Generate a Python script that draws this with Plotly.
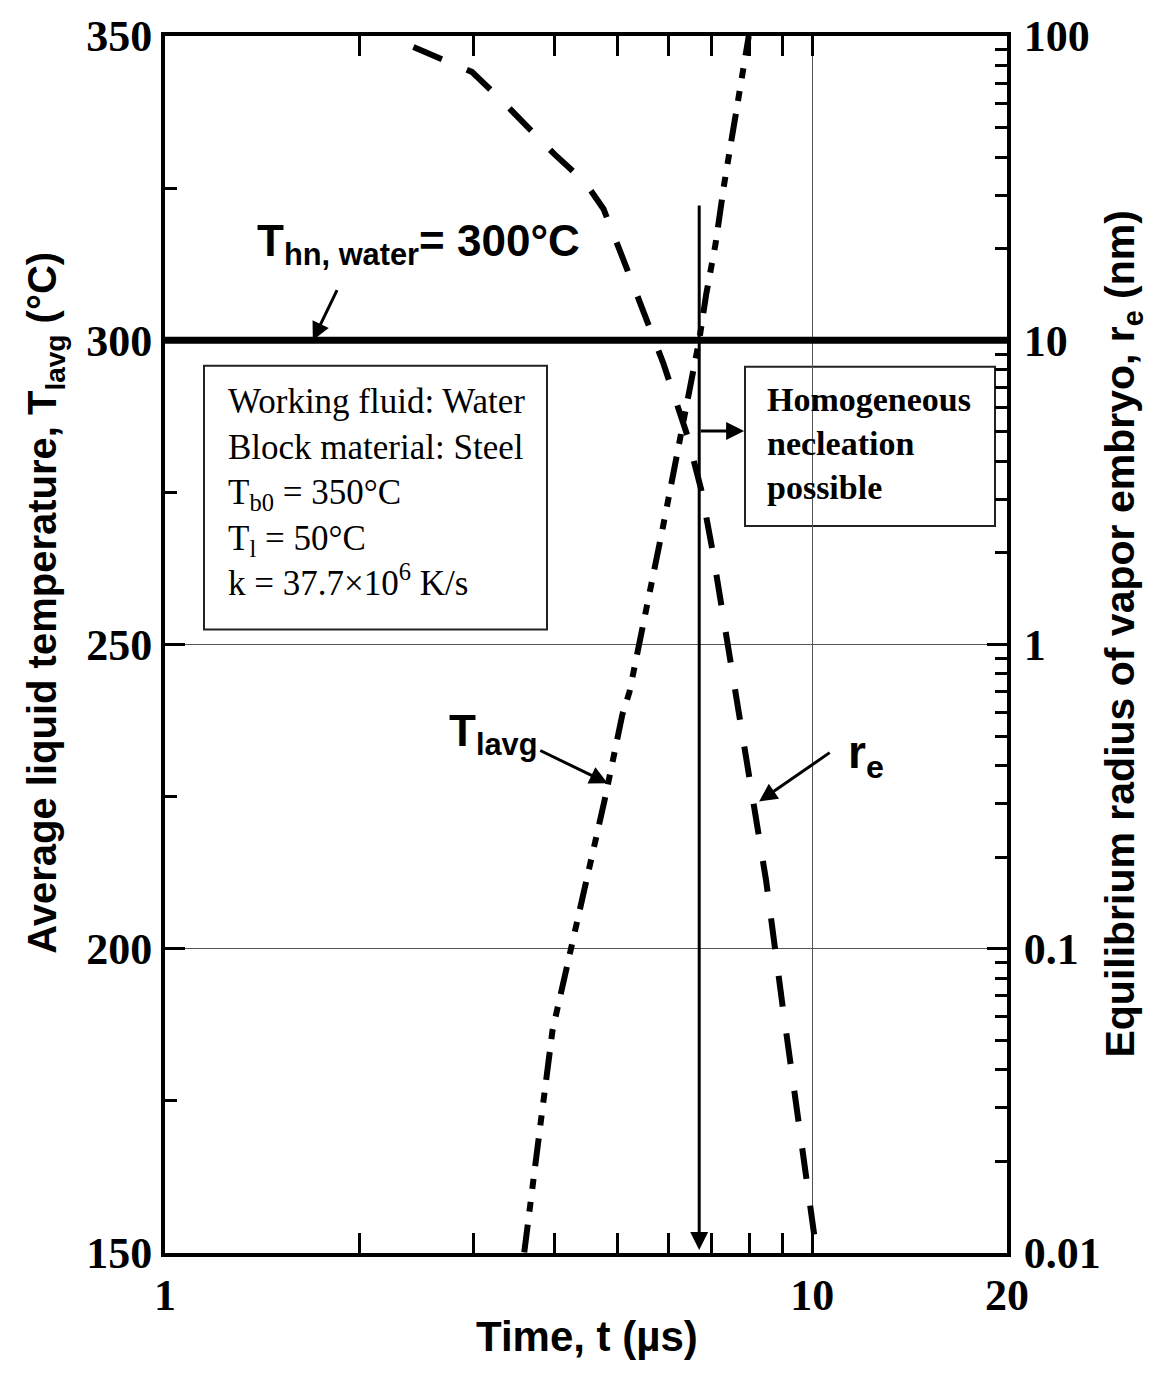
import math
import plotly.graph_objects as go

# ---- data ----
t_T = [3.59, 3.68, 3.76, 3.97, 4.53, 4.78, 5.09, 5.22, 5.87, 6.23, 6.53, 6.69, 6.86, 7.09, 7.31, 7.66, 7.98]
T_lavg = [150.1, 158.6, 167.0, 186.6, 213.6, 224.5, 238.5, 242.2, 268.9, 283.1, 294.6, 300.0, 307.6, 315.8, 325.6, 338.7, 350.0]

t_r = [2.42, 2.69, 2.98, 3.28, 3.63, 4.00, 4.46, 4.76, 5.15, 5.58, 5.89, 6.41, 6.74, 7.01, 7.24, 7.63, 8.28, 8.49, 9.02, 9.65, 10.07]
r_e = [92.0, 83.5, 76.2, 62.7, 50.4, 40.8, 33.0, 27.0, 17.6, 11.5, 8.39, 4.88, 3.22, 2.05, 1.345, 0.715, 0.243, 0.167, 0.0627, 0.0219, 0.0115]

T_hn = 300.0          # homogeneous nucleation temperature
t_hn = 6.69           # time at which T_lavg reaches T_hn (µs)

x_ticks = [1, 10, 20]
x_minor = [2, 3, 4, 5, 6, 7, 8, 9]
T_ticks = [150, 200, 250, 300, 350]
T_minor = [175, 225, 275, 325]
r_ticks = [0.01, 0.1, 1, 10, 100]
r_ticklabels = ["0.01", "0.1", "1", "10", "100"]
r_minor = [m * 10 ** k for k in range(-2, 2) for m in range(2, 10)]

SANS = "Liberation Sans, Arial, sans-serif"
SERIF = "Liberation Serif, Times New Roman, serif"

fig = go.Figure()

# T_hn horizontal line
fig.add_trace(go.Scatter(x=[1, 20], y=[T_hn, T_hn], mode="lines",
                         line=dict(color="black", width=7), showlegend=False, hoverinfo="skip"))
# T_lavg dash-dot-dot
fig.add_trace(go.Scatter(x=t_T, y=T_lavg, mode="lines",
                         line=dict(color="black", width=6, dash="28px,13px,10px,13px,10px,13px"),
                         showlegend=False))
# r_e dashed, right axis
fig.add_trace(go.Scatter(x=t_r, y=r_e, mode="lines", yaxis="y2",
                         line=dict(color="black", width=6, dash="31px,27px"),
                         showlegend=False))

axis_common = dict(showline=True, linecolor="black", linewidth=4, ticks="inside",
                   tickcolor="black", tickwidth=3, ticklen=20, zeroline=False)

fig.update_layout(
    width=1160, height=1373,
    margin=dict(l=165, r=153, t=31, b=120),
    plot_bgcolor="white", paper_bgcolor="white",
    xaxis=dict(type="log", range=[0, math.log10(20)], tickvals=x_ticks,
               ticktext=[str(v) for v in x_ticks], mirror="allticks",
               showgrid=True, gridcolor="#555", gridwidth=1,
               minor=dict(tickvals=x_minor, ticks="inside", ticklen=12, tickwidth=3,
                          tickcolor="black", showgrid=False),
               tickfont=dict(family=SERIF, size=44, color="black", weight="bold"),
               **axis_common),
    yaxis=dict(range=[150, 350], tickvals=T_ticks, showgrid=True, gridcolor="#555", gridwidth=1,
               minor=dict(tickvals=T_minor, ticks="inside", ticklen=12, tickwidth=3,
                          tickcolor="black", showgrid=False),
               tickfont=dict(family=SERIF, size=44, color="black", weight="bold"),
               **axis_common),
    yaxis2=dict(type="log", range=[-2, 2], overlaying="y", side="right", anchor="x",
                tickvals=r_ticks, ticktext=r_ticklabels, showgrid=False,
                minor=dict(tickvals=r_minor, ticks="inside", ticklen=12, tickwidth=3,
                           tickcolor="black", showgrid=False),
                tickfont=dict(family=SERIF, size=44, color="black", weight="bold"),
                ticklabelstandoff=4,
                **axis_common),
    showlegend=False,
)

def px_x(p):
    return (p - 165) / 842.0

def px_y(p):
    return (1253 - p) / 1222.0

annotations = []
# axis titles
annotations.append(dict(text="Time, t (µs)", xref="paper", yref="paper", x=px_x(587), y=px_y(1337),
                        xanchor="center", yanchor="middle",
                        showarrow=False, font=dict(family=SANS, size=42, color="black", weight="bold")))
annotations.append(dict(text="Average liquid temperature, T<sub>lavg</sub> (°C)", xref="paper", yref="paper",
                        x=px_x(45), y=px_y(600), xanchor="center", yanchor="middle", textangle=-90,
                        showarrow=False,
                        font=dict(family=SANS, size=40, color="black", weight="bold")))
annotations.append(dict(text="Equilibrium radius of vapor embryo, r<sub>e</sub> (nm)", xref="paper", yref="paper",
                        x=px_x(1123), y=px_y(632), xanchor="center", yanchor="middle", textangle=-90,
                        showarrow=False,
                        font=dict(family=SANS, size=41, color="black", weight="bold")))

# T_hn label + arrow
annotations.append(dict(text="T<sub>hn, water</sub>= 300°C", xref="paper", yref="paper",
                        x=px_x(255), y=px_y(210), xanchor="left", yanchor="top", showarrow=False,
                        font=dict(family=SANS, size=44, color="black", weight="bold")))
annotations.append(dict(text="", x=math.log10(1.692), y=T_hn, ax=math.log10(1.849), ay=308.5,
                        xref="x", yref="y", axref="x", ayref="y", showarrow=True,
                        arrowhead=2, arrowsize=1.2, arrowwidth=3, arrowcolor="black", standoff=0))

# vertical arrow at t_hn
annotations.append(dict(text="", x=math.log10(t_hn), y=150.5, ax=math.log10(t_hn), ay=322.4,
                        xref="x", yref="y", axref="x", ayref="y", showarrow=True,
                        arrowhead=2, arrowsize=1.2, arrowwidth=3, arrowcolor="black", standoff=0))
# horizontal arrow to box
annotations.append(dict(text="", x=math.log10(7.85), y=285.1, ax=math.log10(t_hn), ay=285.1,
                        xref="x", yref="y", axref="x", ayref="y", showarrow=True,
                        arrowhead=2, arrowsize=1.2, arrowwidth=3, arrowcolor="black", standoff=0))

# T_lavg label + arrow
annotations.append(dict(text="T<sub>lavg</sub>", xref="paper", yref="paper",
                        x=px_x(447), y=px_y(702), xanchor="left", yanchor="top", showarrow=False,
                        font=dict(family=SANS, size=44, color="black", weight="bold")))
annotations.append(dict(text="", x=math.log10(4.83), y=227.2, ax=math.log10(3.78), ay=232.7,
                        xref="x", yref="y", axref="x", ayref="y", showarrow=True,
                        arrowhead=2, arrowsize=1.2, arrowwidth=3, arrowcolor="black", standoff=0))

# r_e label + arrow
annotations.append(dict(text="r<sub>e</sub>", xref="paper", yref="paper",
                        x=px_x(846), y=px_y(722), xanchor="left", yanchor="top", showarrow=False,
                        font=dict(family=SANS, size=46, color="black", weight="bold")))
annotations.append(dict(text="", x=math.log10(8.28), y=224.2, ax=math.log10(10.7), ay=232.4,
                        xref="x", yref="y", axref="x", ayref="y", showarrow=True,
                        arrowhead=2, arrowsize=1.2, arrowwidth=3, arrowcolor="black", standoff=0))

# info box text
annotations.append(dict(text="Working fluid: Water<br>Block material: Steel<br>T<sub>b0</sub> = 350°C<br>"
                             "T<sub>l</sub> = 50°C<br>k = 37.7×10<sup>6</sup> K/s",
                        xref="paper", yref="paper", x=px_x(226), y=px_y(489), xanchor="left", yanchor="middle",
                        align="left", showarrow=False,
                        font=dict(family=SERIF, size=35, color="black")))
# homogeneous box text
annotations.append(dict(text="Homogeneous<br>necleation<br>possible",
                        xref="paper", yref="paper", x=px_x(765), y=px_y(440), xanchor="left", yanchor="middle",
                        align="left", showarrow=False,
                        font=dict(family=SERIF, size=34, color="black", weight="bold")))

fig.update_layout(annotations=annotations)

fig.update_layout(shapes=[
    dict(type="rect", xref="paper", yref="paper", x0=px_x(204), x1=px_x(547), y0=px_y(627), y1=px_y(362),
         line=dict(color="#222", width=2), fillcolor="white", layer="below"),
    dict(type="rect", xref="paper", yref="paper", x0=px_x(745), x1=px_x(995), y0=px_y(523), y1=px_y(363),
         line=dict(color="#222", width=2), fillcolor="white", layer="below"),
])

fig.write_html("out.html")
